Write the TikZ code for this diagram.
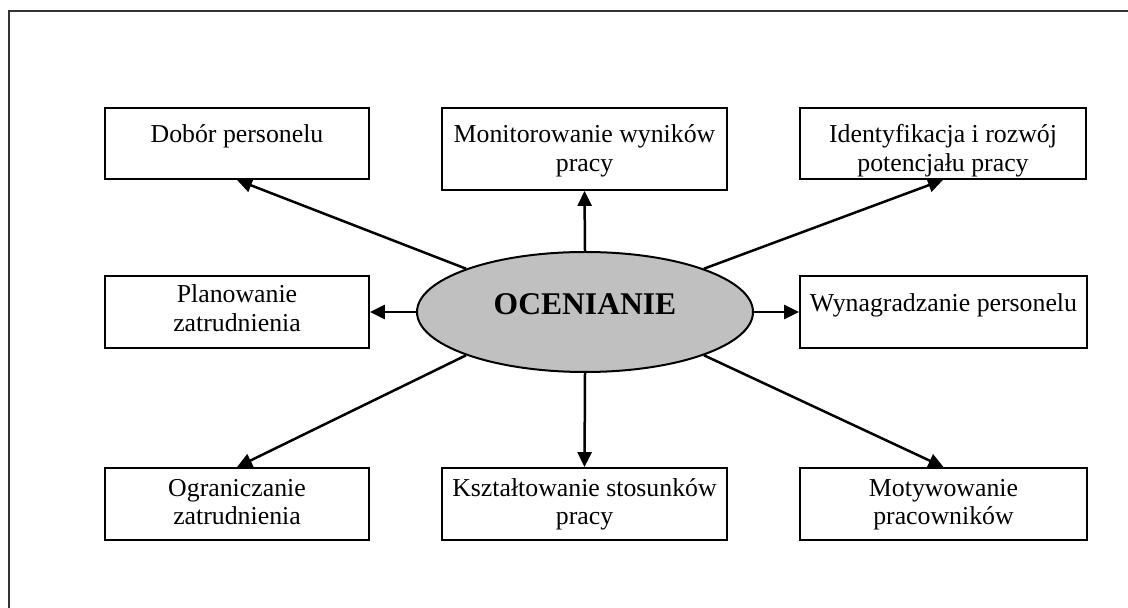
\documentclass[tikz,border=0pt]{standalone}
\usepackage{fontspec}
\setmainfont{Liberation Serif}
\usetikzlibrary{arrows.meta,shapes.geometric}
\definecolor{ocengray}{RGB}{192,192,192}

\begin{document}
\begin{tikzpicture}[x=0.5pt,y=-0.5pt,>={Triangle[length=7.5pt,width=7pt]},
  box/.style={draw,line width=0.9pt,inner sep=0pt,align=center,
    font=\fontsize{12.9}{14.25}\selectfont},
  arr/.style={->,line width=1.25pt}]
\useasboundingbox (0,0) rectangle (1128,608);

% frame
\draw[line width=1pt,black!80] (9,608) -- (9,11) -- (1128,11);

% top row
\node[box,minimum width=132pt,minimum height=35.5pt,text height=17.5pt,text depth=18pt]
  (dobor) at (237,143.5) {Dobór personelu};
\node[box,minimum width=142.5pt,minimum height=41pt,text height=31.75pt,text depth=9.25pt]
  (monit) at (584.5,149) {Monitorowanie wyników\\pracy};
\node[box,minimum width=143pt,minimum height=35.5pt,text height=31.75pt,text depth=3.75pt]
  (ident) at (943,143.5) {Identyfikacja i rozwój\\potencjału pracy};

% middle row
\node[ellipse,draw,line width=1pt,fill=ocengray,inner sep=0pt,
  minimum width=168pt,minimum height=60pt,text height=12pt,text depth=9pt,
  font=\fontsize{15.8}{18}\selectfont\bfseries] (ocen) at (585,312) {OCENIANIE};
\node[box,minimum width=132pt,minimum height=36pt,text height=27.75pt,text depth=8.25pt]
  (plan) at (237,312) {Planowanie\\zatrudnienia};
\node[box,minimum width=143.5pt,minimum height=36pt,text height=18pt,text depth=18pt]
  (wynag) at (943.5,312) {Wynagradzanie personelu};

% bottom row
\node[box,minimum width=132pt,minimum height=36pt,text height=28.25pt,text depth=7.75pt]
  (ogr) at (237,504) {Ograniczanie\\zatrudnienia};
\node[box,minimum width=142.5pt,minimum height=36pt,text height=28.25pt,text depth=7.75pt]
  (kszt) at (584.5,504) {Kształtowanie stosunków\\pracy};
\node[box,minimum width=143.5pt,minimum height=36pt,text height=28.25pt,text depth=7.75pt]
  (motyw) at (943.5,504) {Motywowanie\\pracowników};

% arrows
\draw[arr] (ocen.160) -- (dobor.south);
\draw[arr] (ocen.north) -- (monit.south);
\draw[arr] (ocen.20) -- (ident.south);
\draw[arr] (ocen.west) -- (plan.east);
\draw[arr] (ocen.east) -- (wynag.west);
\draw[arr] (ocen.200) -- (ogr.north);
\draw[arr] (ocen.south) -- (kszt.north);
\draw[arr] (ocen.340) -- (motyw.north);

\end{tikzpicture}
\end{document}
